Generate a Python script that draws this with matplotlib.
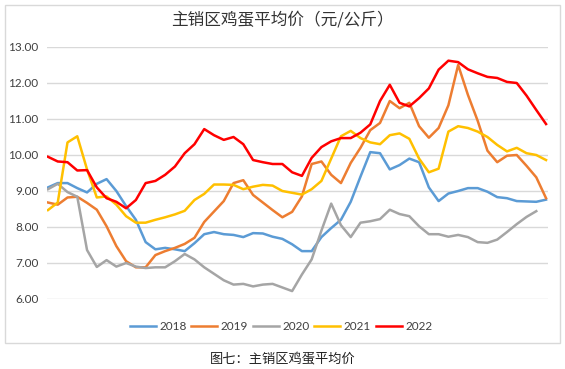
import matplotlib
matplotlib.use("Agg")
import matplotlib.pyplot as plt
from matplotlib.patches import Rectangle

plt.rcParams['font.family'] = ['Lato', 'Noto Sans CJK SC', 'DejaVu Sans']

# 周序号（横轴无刻度标签）
weeks = list(range(1, 53))

y2018 = [9.10, 9.22, 9.22, 9.08, 8.96, 9.20, 9.33, 9.00, 8.58, 8.20,
         7.58, 7.38, 7.42, 7.38, 7.33, 7.55, 7.80, 7.86, 7.80, 7.78,
         7.72, 7.83, 7.82, 7.73, 7.67, 7.52, 7.33, 7.33, 7.72, 7.97,
         8.20, 8.70, 9.40, 10.08, 10.05, 9.60, 9.72, 9.90, 9.80, 9.10,
         8.72, 8.93, 9.00, 9.08, 9.08, 8.98, 8.83, 8.80, 8.72, 8.71,
         8.70, 8.76]
y2019 = [8.68, 8.62, 8.82, 8.84, 8.67, 8.48, 8.02, 7.47, 7.05, 6.88,
         6.88, 7.22, 7.33, 7.42, 7.53, 7.70, 8.14, 8.43, 8.72, 9.22,
         9.30, 8.89, 8.68, 8.47, 8.27, 8.42, 8.85, 9.75, 9.82, 9.45,
         9.22, 9.78, 10.20, 10.69, 10.89, 11.50, 11.30, 11.45, 10.80, 10.48,
         10.75, 11.38, 12.50, 11.67, 10.95, 10.12, 9.80, 9.98, 10.00, 9.70,
         9.38, 8.80]
y2020 = [9.05, 9.20, 8.97, 8.84, 7.36, 6.89, 7.08, 6.90, 7.00, 6.90,
         6.86, 6.88, 6.88, 7.05, 7.25, 7.10, 6.88, 6.70, 6.52, 6.40,
         6.42, 6.35, 6.40, 6.42, 6.32, 6.22, 6.68, 7.10, 7.90, 8.65,
         8.05, 7.72, 8.12, 8.16, 8.22, 8.48, 8.36, 8.30, 8.02, 7.80,
         7.80, 7.73, 7.78, 7.72, 7.58, 7.56, 7.65, 7.86, 8.08, 8.28,
         8.44]
y2021 = [8.47, 8.68, 10.35, 10.52, 9.60, 8.82, 8.85, 8.62, 8.30, 8.12,
         8.12, 8.20, 8.27, 8.35, 8.45, 8.75, 8.92, 9.18, 9.18, 9.17,
         9.05, 9.12, 9.17, 9.15, 9.00, 8.95, 8.90, 9.05, 9.28, 9.90,
         10.52, 10.67, 10.47, 10.35, 10.30, 10.55, 10.60, 10.45, 9.90, 9.52,
         9.62, 10.65, 10.80, 10.75, 10.65, 10.50, 10.28, 10.10, 10.20, 10.05,
         10.00, 9.86]
y2022 = [9.95, 9.82, 9.80, 9.57, 9.58, 9.10, 8.80, 8.70, 8.52, 8.75,
         9.22, 9.28, 9.45, 9.68, 10.05, 10.30, 10.72, 10.55, 10.42, 10.50,
         10.30, 9.86, 9.80, 9.75, 9.75, 9.52, 9.42, 9.92, 10.22, 10.38,
         10.47, 10.47, 10.62, 10.85, 11.50, 11.95, 11.45, 11.35, 11.58, 11.85,
         12.37, 12.62, 12.58, 12.38, 12.27, 12.17, 12.14, 12.03, 12.00, 11.65,
         11.25, 10.86]

series = [
    ("2018", y2018, "#5B9BD5"),
    ("2019", y2019, "#ED7D31"),
    ("2020", y2020, "#A5A5A5"),
    ("2021", y2021, "#FFC000"),
    ("2022", y2022, "#FF0000"),
]
yticks = [6, 7, 8, 9, 10, 11, 12, 13]

W, H = 565, 369
fig = plt.figure(figsize=(W / 100, H / 100), dpi=100)

# 图表外框
fig.patches.append(Rectangle((5 / W, 1 - 343 / H), 555 / W, 338 / H,
                             transform=fig.transFigure, fill=False,
                             edgecolor="#d9d9d9", linewidth=1))

ax = fig.add_axes([47 / W, 1 - 299 / H, 501 / W, 252 / H])
for name, vals, col in series:
    ax.plot(weeks[:len(vals)], vals, color=col, linewidth=1.8, label=name)

ax.set_xlim(0.9, 52.2)
ax.set_ylim(6, 13)
ax.set_yticks(yticks)
ax.set_yticklabels([f"{v:.2f}" for v in yticks])
ax.set_xticks([])
ax.grid(axis="y", color="#d9d9d9", linewidth=1)
ax.set_axisbelow(True)
for s in ax.spines.values():
    s.set_visible(False)
ax.tick_params(axis="y", length=0, pad=6, labelsize=8.5, labelcolor="#404040")

fig.text(0.5, 1 - 20 / H, "主销区鸡蛋平均价（元/公斤）", ha="center", va="center",
         fontsize=12, family=["Noto Sans CJK SC"], color="#333333")

fig.legend(loc="center", bbox_to_anchor=(281 / W, 1 - 327 / H), ncol=5,
           frameon=False, fontsize=8.5, handlelength=2.2, handletextpad=0.3,
           columnspacing=0.4, labelcolor="#404040")

fig.text(0.5, 1 - 360 / H, "图七：主销区鸡蛋平均价", ha="center", va="center",
         fontsize=9.5, family=["Noto Sans CJK SC"], color="#222222")

fig.savefig("out.png", dpi=100)
